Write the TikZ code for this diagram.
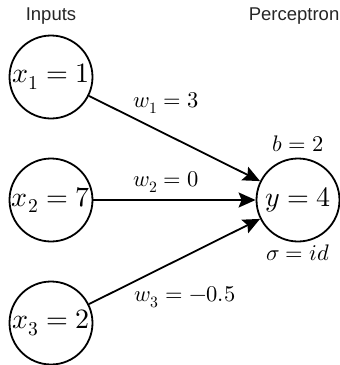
\documentclass[tikz,border=0pt]{standalone}
\usepackage{fontspec}
\setmainfont{Liberation Sans}
\usepackage{unicode-math}
\setmathfont{Latin Modern Math}
\usetikzlibrary{arrows.meta}
\begin{document}
\begin{tikzpicture}[x=1pt,y=-1pt,
  neuron/.style={draw=black,line width=1.8pt,circle,minimum size=83pt,inner sep=0pt,font=\fontsize{28}{32}\selectfont},
  edge/.style={line width=1.8pt,-{Stealth[length=17pt,width=15pt,inset=3pt]}},
  wlabel/.style={font=\fontsize{22.5}{26}\selectfont,inner sep=0pt},
  head/.style={font=\fontsize{18.5}{22}\selectfont,text=black!85,inner sep=0pt}]
\useasboundingbox (0,0) rectangle (340,365);
\node[head] (hin) at (51,16) {Inputs};
\node[head,anchor=east] (hout) at (339.5,16) {Perceptron};
\node[neuron] (x1) at (51,77) {$x_1=1$};
\node[neuron] (x2) at (51,200) {$x_2=7$};
\node[neuron] (x3) at (51,323) {$x_3=2$};
\node[neuron] (y) at (298,200) {$y=4$};
\draw[edge] (x1) -- (y);
\draw[edge] (x2) -- (y);
\draw[edge] (x3) -- (y);
\node[wlabel] (w1) at (166,103) {$w_1=3$};
\node[wlabel] (w2) at (166,182) {$w_2=0$};
\node[wlabel] (w3) at (185,297) {$w_3=-0.5$};
\node[wlabel] (b) at (298,144) {$b=2$};
\node[wlabel] (s) at (298,253) {$\sigma=id$};
\end{tikzpicture}
\end{document}
